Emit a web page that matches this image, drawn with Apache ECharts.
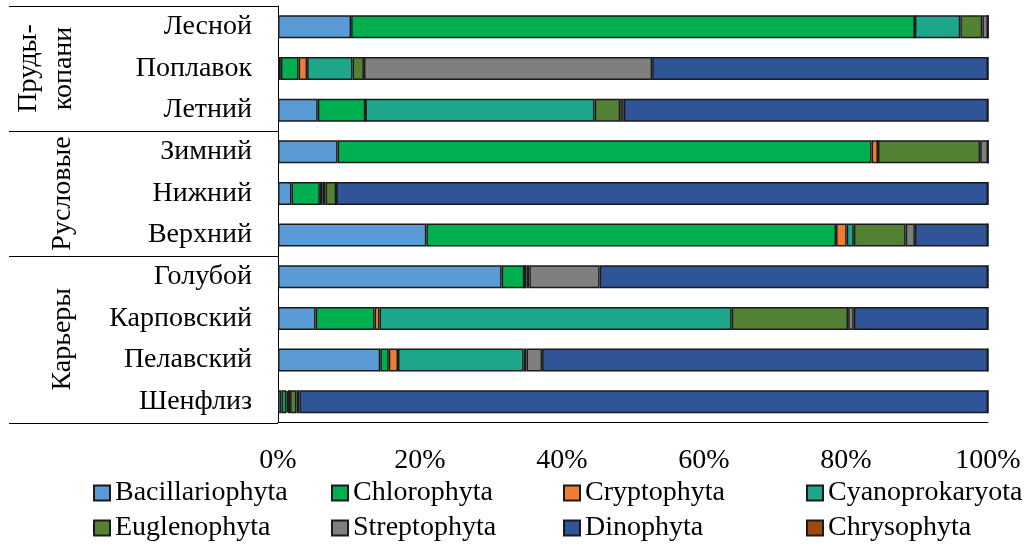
<!DOCTYPE html>
<html>
<head>
<meta charset="utf-8">
<script src="https://cdn.jsdelivr.net/npm/echarts@6/dist/echarts.min.js"></script>
<style>
  html, body { margin: 0; padding: 0; background: #fff; }
  #chart { width: 1029px; height: 545px; }
</style>
</head>
<body>
<div id="chart"></div>
<script>
// Water bodies, top to bottom
const categories = ['Лесной', 'Поплавок', 'Летний', 'Зимний', 'Нижний', 'Верхний',
                    'Голубой', 'Карповский', 'Пелавский', 'Шенфлиз'];

// Share of each algae division, %
const bacillariophyta = [10.3, 0.4, 5.6, 8.4, 1.9, 20.9, 31.5, 5.3, 14.4, 0.5];
const chlorophyta     = [79.4, 2.5, 6.7, 75.2, 4.0, 57.7, 3.2, 8.3, 1.2, 0.7];
const cryptophyta     = [0, 1.2, 0, 0.9, 0.4, 1.5, 0, 0.7, 1.3, 0.2];
const cyanoprokaryota = [6.4, 6.4, 32.3, 0, 0.4, 1.0, 0.3, 49.6, 17.7, 0.3];
const euglenophyta    = [3.1, 1.6, 3.6, 14.4, 1.5, 7.3, 0.4, 16.4, 0.4, 0.9];
const streptophyta    = [0.8, 40.6, 0.5, 1.1, 0, 1.3, 9.9, 0.8, 2.2, 0.4];
const dinophyta       = [0, 47.3, 51.3, 0, 91.8, 10.3, 54.7, 18.9, 62.8, 97.0];
const chrysophyta     = [0, 0, 0, 0, 0, 0, 0, 0, 0, 0];

// Axis ticks, %
const xTicks = [0, 20, 40, 60, 80, 100];

// Groups of water bodies (index ranges into categories)
const groups = [
  { label: 'Пруды-\nкопани', from: 0, to: 2, cx: 46 },
  { label: 'Русловые', from: 3, to: 5, cx: 63 },
  { label: 'Карьеры', from: 6, to: 9, cx: 63 }
];

const divisions = [
  { name: 'Bacillariophyta', data: bacillariophyta, color: '#5B9BD5' },
  { name: 'Chlorophyta',     data: chlorophyta,     color: '#00AF50' },
  { name: 'Cryptophyta',     data: cryptophyta,     color: '#ED7D31' },
  { name: 'Cyanoprokaryota', data: cyanoprokaryota, color: '#1EA68B' },
  { name: 'Euglenophyta',    data: euglenophyta,    color: '#548235' },
  { name: 'Streptophyta',    data: streptophyta,    color: '#7F7F7F' },
  { name: 'Dinophyta',       data: dinophyta,       color: '#2F5597' },
  { name: 'Chrysophyta',     data: chrysophyta,     color: '#9E480E' }
];

// Legend grid: 4 columns x 2 rows
const legendColumnsX = [88, 326, 558, 801];
const legendRowsY = [474, 509];

const FONT = '"Liberation Serif", "Times New Roman", serif';
const chart = echarts.init(document.getElementById('chart'), null, { renderer: 'canvas' });

chart.setOption({
  animation: false,
  backgroundColor: '#fff',
  textStyle: { fontFamily: FONT, color: '#000' },
  grid: { left: 278, top: 6, width: 710, height: 416.5, containLabel: false },
  xAxis: {
    type: 'value',
    min: xTicks[0],
    max: xTicks[xTicks.length - 1],
    interval: xTicks[1] - xTicks[0],
    splitLine: { show: false },
    axisTick: { show: false },
    axisLine: { show: true, lineStyle: { color: '#000', width: 1 } },
    axisLabel: { formatter: '{value}%', fontSize: 28, fontFamily: FONT, color: '#000', margin: 24 }
  },
  yAxis: {
    type: 'category',
    data: categories,
    inverse: true,
    axisTick: { show: false },
    axisLine: { show: true, lineStyle: { color: '#000', width: 1 } },
    axisLabel: { fontSize: 28, fontFamily: FONT, color: '#000', margin: 26 }
  },
  legend: divisions.map((d, i) => ({
    data: [d.name],
    orient: 'horizontal',
    left: legendColumnsX[i % 4],
    top: legendRowsY[Math.floor(i / 4)],
    itemWidth: 16,
    itemHeight: 15,
    icon: 'rect',
    selectedMode: false,
    textStyle: { fontSize: 28, fontFamily: FONT, color: '#000', lineHeight: 28 }
  })),
  series: divisions.map(d => ({
    name: d.name,
    type: 'bar',
    stack: 'total',
    barWidth: 23,
    data: d.data,
    itemStyle: { color: d.color, borderColor: '#1a1a1a', borderWidth: 1.5 },
    emphasis: { disabled: true }
  }))
});

// Group separators and rotated group titles, placed from the category axis
function yOf(i) { return chart.convertToPixel({ yAxisIndex: 0 }, categories[i]); }
const band = yOf(1) - yOf(0);
const axisX = chart.convertToPixel({ xAxisIndex: 0 }, 0);
const graphics = [];
const edges = new Set();
groups.forEach(g => {
  const top = yOf(g.from) - band / 2;
  const bottom = yOf(g.to) + band / 2;
  edges.add(Math.round(top) + 0.5);
  edges.add(Math.round(bottom) + 0.5);
  graphics.push({
    type: 'text',
    x: g.cx,
    y: (top + bottom) / 2,
    rotation: Math.PI / 2,
    silent: true,
    style: {
      text: g.label,
      fontSize: 28,
      fontFamily: FONT,
      fill: '#000',
      align: 'center',
      verticalAlign: 'middle',
      lineHeight: 35
    }
  });
});
edges.forEach(y => {
  graphics.push({
    type: 'line',
    silent: true,
    shape: { x1: 9, y1: y, x2: axisX, y2: y },
    style: { stroke: '#000', lineWidth: 1 }
  });
});
chart.setOption({ graphic: graphics });
</script>
</body>
</html>
